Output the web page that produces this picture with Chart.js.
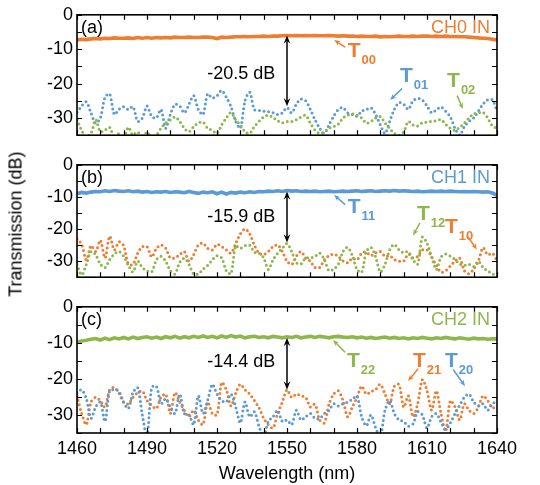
<!DOCTYPE html>
<html>
<head>
<meta charset="utf-8">
<script src="https://cdn.jsdelivr.net/npm/chart.js@4.4.1/dist/chart.umd.min.js"></script>
<style>
  html, body { margin: 0; padding: 0; background: #fff; }
  #wrap { position: relative; width: 540px; height: 485px; overflow: hidden; }
  canvas { position: absolute; left: 0; }
  #ytitle {
    position: absolute; left: 16px; top: 224px;
    transform: translate(-50%, -50%) rotate(-90deg);
    font: 18px "Liberation Sans", Arial, sans-serif; color: #000; white-space: nowrap;
  }
</style>
</head>
<body>
<div id="wrap">
  <canvas id="chartA" width="540" height="150" style="top:0"></canvas>
  <canvas id="chartB" width="540" height="142" style="top:150px"></canvas>
  <canvas id="chartC" width="540" height="193" style="top:292px"></canvas>
  <div id="ytitle">Transmission (dB)</div>
</div>
<script>
// sampling grid of the measured spectra (nm)
const wavelengths = Array.from({ length: 91 }, (_, i) => 1460 + 2 * i);
const xTicks = [1460, 1490, 1520, 1550, 1580, 1610, 1640];
const yTicks = [0, -10, -20, -30];

// (a) CH0 in
const t00 = [
  -7.3, -7.1, -7.2, -7.0, -6.9, -7.0, -6.8, -6.9, -6.7, -6.8,
  -6.8, -6.7, -6.9, -6.6, -6.8, -6.6, -6.8, -6.6, -6.7, -6.6,
  -6.7, -6.5, -6.6, -6.6, -6.5, -6.6, -6.6, -6.5, -6.5, -6.6,
  -6.9, -6.5, -6.6, -6.5, -6.4, -6.4, -6.3, -6.4, -6.3, -6.3,
  -6.2, -6.3, -6.2, -6.2, -6.1, -6.0, -6.1, -6.0, -6.1, -6.0,
  -6.1, -6.0, -6.1, -6.1, -6.0, -6.1, -6.2, -6.1, -6.2, -6.2,
  -6.3, -6.2, -6.3, -6.3, -6.2, -6.4, -6.3, -6.4, -6.3, -6.2,
  -6.3, -6.3, -6.2, -6.3, -6.2, -6.2, -6.3, -6.2, -6.3, -6.2,
  -6.3, -6.3, -6.4, -6.4, -6.5, -6.6, -6.7, -6.8, -6.9, -7.1,
  -7.3,
];
const t01 = [
  -28.3, -26.5, -25.3, -28.6, -31.5, -30, -24, -23, -29, -27.5,
  -26.7, -27.5, -26.7, -31, -30, -26.5, -29.5, -30, -27.5, -33,
  -29, -26, -26.5, -28.5, -26, -23.5, -27.5, -29, -23, -24.2,
  -23.5, -22, -24, -26.7, -31, -33, -25, -22.5, -27.5, -27.8,
  -28, -28.2, -28.5, -29, -28.5, -27, -28.5, -26, -24.5, -25,
  -27.5, -30.5, -33, -34.5, -32, -29.5, -27.5, -27, -28.5, -29,
  -29.5, -28, -27.5, -27, -29, -32, -34.5, -31, -27.5, -25.5,
  -26, -27.5, -25, -24.3, -24.8, -26.5, -28.5, -27.6, -26.8, -28,
  -29.7, -33, -35, -32.5, -31, -30, -28, -26, -24.7, -24.7,
  -28,
];
const t02 = [
  -30.5, -33.6, -35.5, -34.5, -30.5, -34, -33.5, -32.7, -36, -34.5,
  -36, -32.7, -35, -34, -36, -34, -36, -35, -33, -31.4,
  -30.5, -29.7, -31, -33, -34, -32.5, -31.4, -31.2, -33, -33.6,
  -34.5, -32, -30, -28.4, -30.5, -32, -34, -34.5, -32.5, -31,
  -29.7, -29.2, -29.8, -30.8, -31.4, -31, -31, -30.5, -29.7, -29.2,
  -31.5, -33.5, -34.5, -34, -33, -32.5, -31.8, -30, -29.2, -28.8,
  -29.2, -30, -31.5, -31, -30, -29.6, -31.5, -33, -34.5, -35,
  -34, -31, -32, -32.3, -31.4, -31.2, -31, -30.8, -30.5, -31.8,
  -33, -33.6, -32.7, -31.5, -30, -28.8, -28.5, -28.4, -30, -32.3,
  -33,
];

// (b) CH1 in
const t11 = [
  -9.0, -8.6, -8.8, -8.5, -8.3, -8.4, -8.1, -8.3, -8.0, -8.2,
  -8.3, -8.1, -8.4, -8.2, -8.5, -8.3, -8.6, -8.4, -8.5, -8.3,
  -8.6, -8.4, -8.5, -8.7, -8.3, -8.6, -8.9, -8.5, -8.7, -8.4,
  -9.0, -8.5, -9.1, -8.6, -8.8, -8.5, -8.7, -8.4, -8.6, -8.3,
  -8.4, -8.2, -8.3, -8.1, -8.3, -8.0, -8.2, -8.1, -8.3, -8.2,
  -8.3, -8.2, -8.4, -8.3, -8.2, -8.4, -8.3, -8.2, -8.3, -8.2,
  -8.1, -8.3, -8.2, -8.1, -8.3, -8.2, -8.1, -8.2, -8.0, -8.2,
  -8.1, -8.2, -8.3, -8.2, -8.4, -8.3, -8.2, -8.3, -8.2, -8.3,
  -8.2, -8.3, -8.4, -8.3, -8.4, -8.3, -8.4, -8.5, -8.4, -8.8,
  -9.5,
];
const t12 = [
  -31, -34.3, -31, -27, -28, -30.9, -32, -29.5, -27.8, -27,
  -28.5, -31.3, -33.4, -30, -32, -33, -33.4, -29.6, -28.5, -30,
  -33, -34, -30.4, -29.1, -31, -34, -34, -32.5, -31.3, -29.6,
  -28.3, -29, -33, -33.9, -25.2, -26, -25.2, -25, -27.2, -27.5,
  -29, -32.6, -29.6, -27.5, -26, -24.5, -27, -30.5, -30.9, -29,
  -29, -28.5, -27.5, -29.5, -33, -32.5, -31, -27, -25.7, -28.3,
  -32.6, -33.5, -27, -25.7, -28.7, -33.4, -31, -26.5, -24.8, -26.5,
  -27.4, -27, -29.6, -31, -22.5, -24.4, -28.7, -32.6, -28.7, -27.8,
  -28.5, -29.5, -30.9, -31.3, -31, -31.7, -30, -32, -33, -34,
  -34.3,
];
const t10 = [
  -23, -24.8, -29.6, -25.2, -27, -23.5, -29, -22.2, -26.5, -24,
  -25.2, -30.9, -31, -27.5, -25.5, -25.5, -28.7, -26.1, -25, -26,
  -29, -29, -28, -27, -30, -28, -25, -24.4, -26, -26.5,
  -24.8, -25.5, -26.5, -27.5, -24.5, -21.5, -20, -21.5, -25, -27.5,
  -28, -27, -25.5, -25, -27, -30, -31, -28.5, -27, -29,
  -30, -32, -32, -29.6, -28.3, -27.8, -28.5, -30, -30.5, -29.1,
  -29.6, -27.5, -27.2, -28.3, -27.4, -27, -28.5, -28.3, -29.5, -30,
  -30, -27.8, -29, -28.5, -26.5, -26.5, -28.7, -31.3, -33.4, -33,
  -31.5, -30, -29, -33, -33.9, -32.5, -30, -25.8, -28, -27.5,
  -29.8,
];

// (c) CH2 in
const t22 = [
  -9.9, -9.5, -9.3, -9.0, -8.8, -9.2, -8.7, -9.1, -8.6, -8.9,
  -8.5, -8.9, -8.4, -8.8, -8.5, -8.3, -8.7, -8.4, -8.8, -8.3,
  -8.6, -8.2, -8.7, -8.3, -8.6, -8.2, -8.5, -8.1, -8.5, -8.2,
  -8.6, -8.1, -8.5, -8.0, -8.4, -8.1, -8.6, -8.3, -8.2, -8.5,
  -8.3, -8.6, -8.2, -8.4, -8.6, -8.3, -8.5, -8.2, -8.6, -8.4,
  -8.2, -8.5, -8.2, -8.4, -8.6, -8.3, -8.2, -8.4, -8.5, -8.3,
  -8.6, -8.4, -8.7, -8.5, -8.8, -8.6, -8.4, -8.7, -8.5, -8.8,
  -8.6, -8.9, -8.6, -8.8, -8.5, -8.7, -8.9, -8.6, -8.8, -8.5,
  -8.7, -8.9, -8.6, -8.8, -9.0, -8.7, -8.9, -8.8, -9.0, -8.9,
  -8.9,
];
const t21 = [
  -24.7, -29.6, -32.7, -26.4, -25.1, -26, -27.8, -22.9, -22.4, -24,
  -26.4, -26.9, -25.1, -23.8, -23.3, -26, -27.3, -28.2, -25.1, -24.2,
  -29.6, -23.8, -26.4, -28.7, -30.5, -28.7, -31.4, -32.7, -26.4, -29.6,
  -30, -21, -23, -27.5, -24, -21.5, -23, -24.2, -26, -28,
  -30.9, -32.7, -33.6, -29.6, -26.4, -23, -25.1, -24.2, -24.7, -25.1,
  -27.8, -27, -31.4, -32.2, -27, -24.2, -23.3, -26, -30.5, -27.8,
  -25.1, -22, -24.2, -23.5, -22.9, -21.5, -24.2, -26.9, -22, -21.5,
  -27.8, -24.7, -30.5, -26.9, -20.2, -23.3, -28.7, -23.3, -29.6, -34.5,
  -26, -27.8, -31.4, -26.9, -28.7, -29.6, -27.8, -24.7, -26, -28,
  -27.5,
];
const t20 = [
  -24, -23, -25.5, -30.9, -27.8, -26.4, -31.8, -23.3, -23, -23.5,
  -26.5, -28.2, -23.8, -22.4, -30, -36, -22.4, -22, -26.9, -25.5,
  -27.8, -29.6, -24.2, -29.6, -30, -32.7, -24.7, -29.6, -26, -21.5,
  -24.2, -26, -26.4, -24.2, -27.8, -32.2, -26.4, -30.5, -29.1, -33.1,
  -36, -31.8, -30.5, -28.7, -31.8, -31.4, -32.7, -28.7, -31.4, -30.5,
  -29.6, -30.9, -31, -29.6, -28.7, -26.9, -27.5, -26.9, -26.4, -25.6,
  -24.7, -30.5, -33, -30, -33.6, -36, -28.7, -26, -29.6, -31.4,
  -31.8, -33.1, -32.5, -29.1, -30, -33.6, -30.5, -29.6, -32, -34,
  -32.2, -29.6, -27.3, -25.1, -24.2, -26.4, -27.5, -26.9, -28.7, -27,
  -26,
];

const X_MIN = 1460, X_MAX = 1640, X_MINOR = 10;
const Y_MIN = -35, Y_MAX = 0, Y_MINOR = 5;
const FONT = '"Liberation Sans", Arial, Helvetica, sans-serif';
const ORANGE = "#ef7d31";
const BLUE = "#5b9bd5";
const GREEN = "#8cb84b";

const toPoints = (values) => values.map((y, i) => ({ x: wavelengths[i], y }));

const solid = (values, color) => ({
  data: toPoints(values),
  borderColor: color,
  borderWidth: 3.6,
  pointRadius: 0,
  tension: 0,
});

const dotted = (values, color) => ({
  data: toPoints(values),
  borderColor: color,
  borderWidth: 3,
  borderDash: [0, 4.6],
  borderCapStyle: "round",
  borderJoinStyle: "round",
  pointRadius: 0,
  tension: 0.3,
});

function arrow(ctx, x1, y1, x2, y2, head, both) {
  const ang = Math.atan2(y2 - y1, x2 - x1);
  const c = Math.cos(ang), s = Math.sin(ang);
  const inset = head * 0.5;
  const tip = (x, y, a) => {
    ctx.beginPath();
    ctx.moveTo(x, y);
    ctx.lineTo(x - head * Math.cos(a - 0.38), y - head * Math.sin(a - 0.38));
    ctx.lineTo(x - head * 0.6 * Math.cos(a), y - head * 0.6 * Math.sin(a));
    ctx.lineTo(x - head * Math.cos(a + 0.38), y - head * Math.sin(a + 0.38));
    ctx.closePath();
    ctx.fill();
  };
  ctx.beginPath();
  ctx.moveTo(both ? x1 + inset * c : x1, both ? y1 + inset * s : y1);
  ctx.lineTo(x2 - inset * c, y2 - inset * s);
  ctx.stroke();
  tip(x2, y2, ang);
  if (both) tip(x1, y1, ang + Math.PI);
}

function makeDecor(spec) {
  return {
    id: "decor",
    afterDatasetsDraw(chart) {
      const { ctx, chartArea: a, scales } = chart;
      const px = (v) => scales.x.getPixelForValue(v);
      const py = (v) => scales.y.getPixelForValue(v);
      ctx.save();

      // inward ticks on every side, then the frame
      ctx.strokeStyle = "#000";
      ctx.lineWidth = 1.2;
      ctx.beginPath();
      for (let v = X_MIN; v <= X_MAX; v += X_MINOR) {
        const xp = Math.round(px(v)) + 0.5;
        ctx.moveTo(xp, a.top);
        ctx.lineTo(xp, a.top + 5);
        ctx.moveTo(xp, a.bottom);
        ctx.lineTo(xp, a.bottom - 5);
      }
      for (let v = Y_MIN; v <= Y_MAX; v += Y_MINOR) {
        const yp = Math.round(py(v)) + 0.5;
        ctx.moveTo(a.left, yp);
        ctx.lineTo(a.left + 5, yp);
        ctx.moveTo(a.right, yp);
        ctx.lineTo(a.right - 5, yp);
      }
      ctx.stroke();
      ctx.lineWidth = 1.6;
      ctx.strokeRect(a.left, a.top, a.right - a.left, a.bottom - a.top);

      ctx.font = `18px ${FONT}`;
      ctx.textBaseline = "middle";
      ctx.fillStyle = "#000";
      ctx.textAlign = "left";
      ctx.fillText(spec.letter, a.left + 4, a.top + 13);
      ctx.fillStyle = spec.color;
      ctx.textAlign = "right";
      ctx.fillText(spec.channel, a.right - 7, a.top + 13);

      // contrast marker at 1550 nm
      ctx.strokeStyle = "#000";
      ctx.fillStyle = "#000";
      ctx.lineWidth = 1.5;
      arrow(ctx, px(1550), py(spec.gap[0]), px(1550), py(spec.gap[1]), 9, true);
      ctx.textAlign = "right";
      ctx.fillText(spec.gapText, px(spec.gapAt[0]), py(spec.gapAt[1]));

      spec.tags.forEach((t) => {
        ctx.fillStyle = t.color;
        ctx.strokeStyle = t.color;
        ctx.textAlign = "left";
        ctx.textBaseline = "alphabetic";
        const x = px(t.at[0]);
        const y = py(t.at[1]);
        ctx.font = `bold 21px ${FONT}`;
        ctx.fillText("T", x, y);
        const w = ctx.measureText("T").width;
        ctx.font = `bold 13px ${FONT}`;
        ctx.fillText(t.sub, x + w + 1, y + 7);
        ctx.lineWidth = 1.5;
        arrow(ctx, px(t.from[0]), py(t.from[1]), px(t.to[0]), py(t.to[1]), 7, false);
      });
      ctx.restore();
    },
  };
}

function makeChart(id, datasets, spec, showX, padding) {
  return new Chart(document.getElementById(id), {
    type: "line",
    data: { datasets },
    options: {
      responsive: false,
      animation: false,
      events: [],
      layout: { padding },
      plugins: { legend: { display: false }, tooltip: { enabled: false } },
      scales: {
        x: {
          type: "linear",
          min: X_MIN,
          max: X_MAX,
          display: showX,
          grid: { display: false, drawTicks: false },
          border: { display: false },
          afterBuildTicks: (s) => {
            s.ticks = xTicks.map((value) => ({ value }));
          },
          afterFit: (s) => {
            s.height = showX ? 52 : 0;
          },
          ticks: {
            color: "#000",
            font: { family: FONT, size: 18 },
            padding: 5,
            maxRotation: 0,
            autoSkip: false,
            callback: (v) => String(v),
          },
          title: {
            display: showX,
            text: "Wavelength (nm)",
            color: "#000",
            font: { family: FONT, size: 18 },
            padding: { top: 0, bottom: 0 },
          },
        },
        y: {
          min: Y_MIN,
          max: Y_MAX,
          grid: { display: false, drawTicks: false },
          border: { display: false },
          afterBuildTicks: (s) => {
            s.ticks = yTicks.map((value) => ({ value }));
          },
          afterFit: (s) => {
            s.width = 77;
          },
          ticks: {
            color: "#000",
            font: { family: FONT, size: 18 },
            padding: 4,
            autoSkip: false,
            callback: (v) => String(v),
          },
        },
      },
    },
    plugins: [makeDecor(spec)],
  });
}

makeChart(
  "chartA",
  [solid(t00, ORANGE), dotted(t02, GREEN), dotted(t01, BLUE)],
  {
    letter: "(a)",
    channel: "CH0 IN",
    color: ORANGE,
    gap: [-6.0, -26.6],
    gapText: "-20.5 dB",
    gapAt: [1545, -17.2],
    tags: [
      { sub: "00", color: ORANGE, at: [1576, -12.3], from: [1574.9, -9.4], to: [1570.2, -7.3] },
      { sub: "01", color: BLUE, at: [1598.4, -19.6], from: [1599.3, -21.4], to: [1594.2, -24.8] },
      { sub: "02", color: GREEN, at: [1618.6, -20.9], from: [1622.9, -23.5], to: [1625.4, -27.4] },
    ],
  },
  false,
  { top: 13, bottom: 3, left: 0, right: 43 },
);

makeChart(
  "chartB",
  [solid(t11, BLUE), dotted(t12, GREEN), dotted(t10, ORANGE)],
  {
    letter: "(b)",
    channel: "CH1 IN",
    color: BLUE,
    gap: [-8.3, -24.2],
    gapText: "-15.9 dB",
    gapAt: [1545, -16.3],
    tags: [
      { sub: "11", color: BLUE, at: [1576, -15.0], from: [1574.9, -12.4], to: [1570.2, -9.4] },
      { sub: "12", color: GREEN, at: [1605.7, -17.3], from: [1607, -18.1], to: [1604, -22.0] },
      { sub: "10", color: ORANGE, at: [1617.7, -21.2], from: [1627.1, -22.0], to: [1631.4, -26.4] },
    ],
  },
  false,
  { top: 5, bottom: 3, left: 0, right: 43 },
);

makeChart(
  "chartC",
  [solid(t22, GREEN), dotted(t20, BLUE), dotted(t21, ORANGE)],
  {
    letter: "(c)",
    channel: "CH2 IN",
    color: GREEN,
    gap: [-8.6, -23.0],
    gapText: "-14.4 dB",
    gapAt: [1545, -15.3],
    tags: [
      { sub: "22", color: GREEN, at: [1575.7, -16.6], from: [1574.9, -12.6], to: [1569.7, -9.2] },
      { sub: "21", color: ORANGE, at: [1604, -16.6], from: [1606.2, -17.2], to: [1601.9, -20.6] },
      { sub: "20", color: BLUE, at: [1617.7, -16.6], from: [1621.2, -17.4], to: [1626.3, -22.0] },
    ],
  },
  true,
  { top: 11, bottom: 0, left: 0, right: 43 },
);
</script>
</body>
</html>
